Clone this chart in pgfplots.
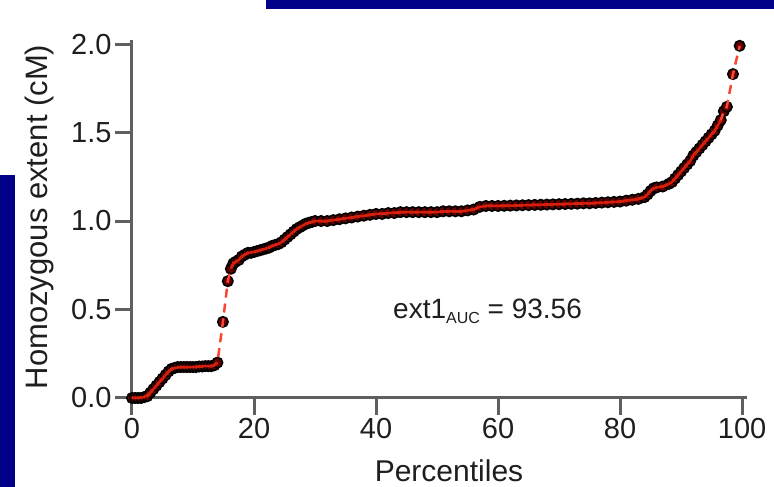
\documentclass[border=0pt]{standalone}
\usepackage{pgfplots}
\pgfplotsset{compat=1.18}
\usepackage{fontspec}
\setmainfont{Liberation Sans}
\definecolor{navybar}{RGB}{0,0,136}
\definecolor{axgray}{RGB}{95,95,95}
\definecolor{mkfill}{RGB}{100,0,0}
\definecolor{redline}{RGB}{250,70,50}
\definecolor{redsolid}{RGB}{215,30,10}
\definecolor{txt}{RGB}{30,30,30}
\pgfplotstableread{
p y
0 0.0
0.5 0.0
1 0.0
1.5 0.0
2 0.005
2.5 0.01
3 0.03
3.5 0.05
4 0.07
4.5 0.09
5 0.11
5.5 0.13
6 0.15
6.5 0.165
7 0.17
7.5 0.175
8 0.175
8.5 0.175
9 0.175
9.5 0.175
10 0.175
10.5 0.175
11 0.178
11.5 0.178
12 0.18
12.5 0.18
13 0.18
13.5 0.185
14 0.2
14.9 0.43
15.7 0.66
16.2 0.73
16.6 0.76
17 0.77
17.5 0.78
18 0.80
18.5 0.81
19 0.82
19.5 0.82
20 0.825
20.5 0.83
21 0.835
21.5 0.84
22 0.845
22.5 0.85
23 0.86
23.5 0.865
24 0.87
24.5 0.88
25 0.895
25.5 0.91
26 0.925
26.5 0.94
27 0.955
27.5 0.965
28 0.975
28.5 0.985
29 0.99
29.5 0.995
30 1.0
31 1.0
32 1.0
33 1.005
34 1.01
35 1.015
36 1.02
37 1.025
38 1.03
39 1.035
40 1.04
41 1.04
42 1.045
43 1.045
44 1.05
45 1.05
46 1.05
47 1.05
48 1.05
49 1.05
50 1.05
51 1.055
52 1.055
53 1.055
54 1.055
55 1.06
56 1.065
57 1.08
58 1.085
59 1.085
60 1.085
61 1.086
62 1.087
63 1.088
64 1.089
65 1.09
66 1.091
67 1.092
68 1.093
69 1.094
70 1.095
71 1.096
72 1.097
73 1.098
74 1.10
75 1.10
76 1.102
77 1.104
78 1.106
79 1.108
80 1.11
81 1.115
82 1.12
83 1.125
84 1.135
84.5 1.15
85 1.17
85.5 1.185
86 1.19
87 1.195
88 1.21
88.5 1.22
89 1.24
89.5 1.26
90 1.28
90.5 1.30
91 1.32
91.5 1.34
92 1.37
92.5 1.39
93 1.41
93.5 1.43
94 1.45
94.5 1.47
95 1.49
95.5 1.51
96 1.54
96.5 1.57
97 1.62
97.5 1.645
98.5 1.83
99.6 1.99
}\datatable
\pgfplotstableread{
p y
0 0.0
1 0.0
2 0.005
3 0.03
4 0.07
5 0.11
6 0.15
7 0.17
8 0.175
10 0.175
11 0.178
12 0.18
13 0.18
13.5 0.185
14 0.2
nan nan
16.2 0.73
16.6 0.76
17 0.77
17.5 0.78
18 0.80
18.5 0.81
19 0.82
20 0.825
21 0.835
22 0.845
23 0.86
24 0.87
24.5 0.88
25 0.895
25.5 0.91
26 0.925
26.5 0.94
27 0.955
27.5 0.965
28 0.975
28.5 0.985
29 0.99
30 1.0
32 1.0
34 1.01
36 1.02
38 1.03
40 1.04
42 1.045
44 1.05
50 1.05
51 1.055
54 1.055
55 1.06
56 1.065
57 1.08
58 1.085
60 1.085
70 1.095
74 1.10
75 1.10
80 1.11
82 1.12
83 1.125
84 1.135
84.5 1.15
85 1.17
85.5 1.185
86 1.19
87 1.195
88 1.21
88.5 1.22
89 1.24
89.5 1.26
90 1.28
90.5 1.30
91 1.32
91.5 1.34
92 1.37
92.5 1.39
93 1.41
93.5 1.43
94 1.45
94.5 1.47
95 1.49
95.5 1.51
96 1.54
96.5 1.57
}\solidtable
\begin{document}
\begin{tikzpicture}[x=1pt,y=1pt]
\useasboundingbox (0,0) rectangle (774,487);
\fill[navybar] (266,478) rectangle (774,487);
\fill[navybar] (0,0) rectangle (15,312);
\begin{axis}[
  at={(132pt,89pt)}, anchor=south west,
  scale only axis, width=615pt, height=357.5pt,
  xmin=0, xmax=100.8, ymin=0, ymax=2.02,
  axis lines=left,
  axis line style={axgray, line width=3pt, -},
  every tick/.style={axgray, line width=3pt},
  tick align=outside, major tick length=17pt,
  xtick={0,20,...,100}, ytick={0,0.5,1,1.5,2},
  yticklabel style={/pgf/number format/.cd, fixed, fixed zerofill, precision=1},
  /pgf/number format/assume math mode=true,
  ticklabel style={font=\fontsize{29}{31}\selectfont, text=txt},
  clip=false, clip marker paths=true, unbounded coords=jump,
]
\addplot[only marks, mark=*, mark size=5.2pt, mark options={draw=black, fill=mkfill, line width=1.6pt}] table[x=p,y=y] {\datatable};
\addplot[redline, line width=2.5pt, dash pattern=on 9pt off 6pt, no marks] table[x=p,y=y] {\datatable};
\addplot[redsolid, line width=2.5pt, no marks] table[x=p,y=y] {\solidtable};
\end{axis}
\node[anchor=base, text=txt, font=\fontsize{30}{32}\selectfont, inner sep=0pt] at (449,5) {Percentiles};
\node[anchor=base, rotate=90, text=txt, font=\fontsize{31}{33}\selectfont, inner sep=0pt] at (47,270) {Homozygous extent (cM)};
\node[anchor=base west, text=txt, font=\fontsize{28}{30}\selectfont, inner sep=0pt] at (393,168) {ext1\raisebox{-5pt}{\fontsize{16}{17}\selectfont AUC} = 93.56};
\end{tikzpicture}
\end{document}
